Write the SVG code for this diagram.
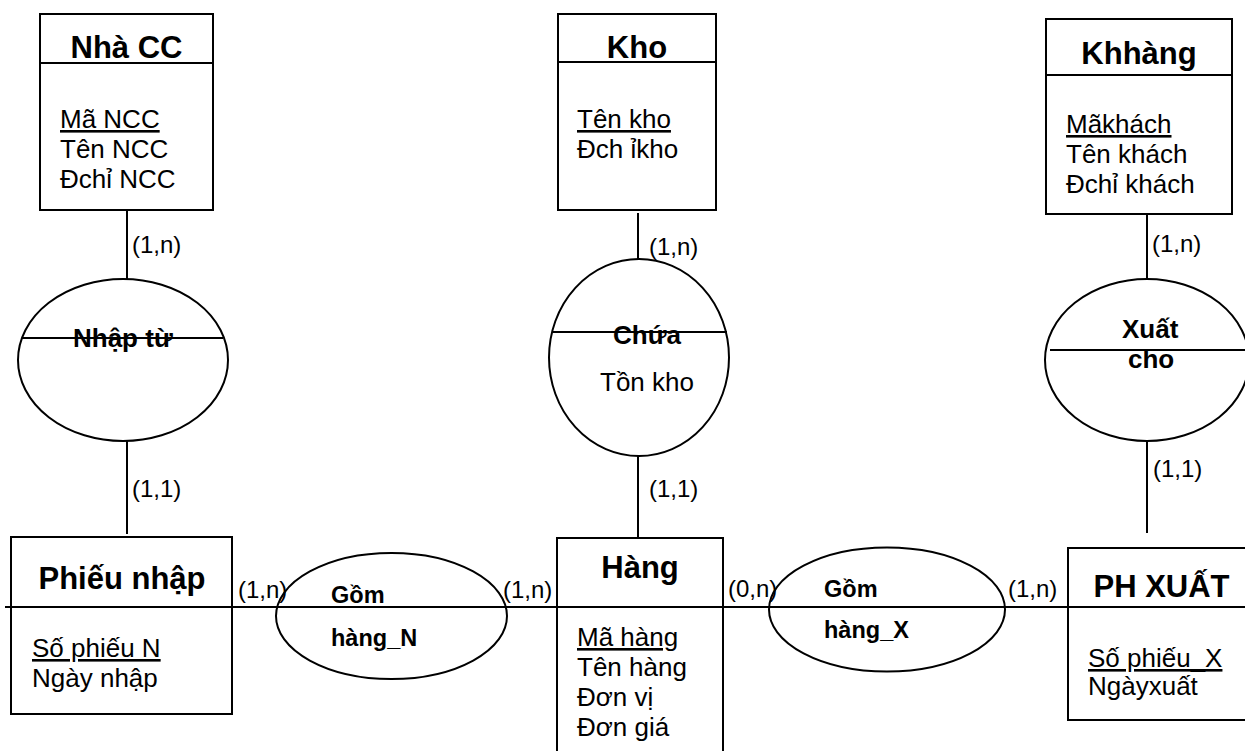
<svg xmlns="http://www.w3.org/2000/svg" width="1245" height="751" viewBox="0 0 1245 751">
  <style>
    .shape { fill: none; stroke: #000; stroke-width: 2; }
    .line { fill: none; stroke: #000; stroke-width: 2; }
    .title { font-family: "Liberation Sans", Arial, sans-serif; font-weight: bold; font-size: 31px; fill: #000; text-anchor: middle; }
    .attr { font-family: "Liberation Sans", Arial, sans-serif; font-size: 26px; fill: #000; }
    .key { text-decoration: underline; }
    .rel { font-family: "Liberation Sans", Arial, sans-serif; font-weight: bold; font-size: 26px; fill: #000; }
    .rel2 { font-family: "Liberation Sans", Arial, sans-serif; font-weight: bold; font-size: 23.5px; fill: #000; }
    .card { font-family: "Liberation Sans", Arial, sans-serif; font-size: 24px; fill: #000; }
  </style>
  <rect width="1245" height="751" fill="#fff"/>

  <!-- connectors and cardinalities -->
  <g id="connectors">
    <line class="line" x1="127" y1="210" x2="127" y2="279"/>
    <line class="line" x1="127" y1="441" x2="127" y2="534"/>
    <line class="line" x1="638" y1="213" x2="638" y2="259"/>
    <line class="line" x1="638" y1="456" x2="638" y2="537"/>
    <line class="line" x1="1147" y1="214" x2="1147" y2="279"/>
    <line class="line" x1="1147" y1="441" x2="1147" y2="533"/>
    <!-- shared horizontal rule through the bottom row -->
    <line class="line" x1="5" y1="607" x2="1245" y2="607"/>
    <text class="card" x="132" y="253">(1,n)</text>
    <text class="card" x="132" y="497">(1,1)</text>
    <text class="card" x="649" y="255">(1,n)</text>
    <text class="card" x="649" y="497">(1,1)</text>
    <text class="card" x="1152" y="252">(1,n)</text>
    <text class="card" x="1153" y="477">(1,1)</text>
    <text class="card" x="238" y="598">(1,n)</text>
    <text class="card" x="503" y="598">(1,n)</text>
    <text class="card" x="728" y="597">(0,n)</text>
    <text class="card" x="1008" y="597">(1,n)</text>
  </g>

  <!-- entities -->
  <g id="nha-cc">
    <rect class="shape" x="40" y="14" width="173" height="196"/>
    <line class="line" x1="40" y1="63" x2="213" y2="63"/>
    <text class="title" x="126.5" y="58">Nhà CC</text>
    <text class="attr key" x="60" y="128">Mã NCC</text>
    <text class="attr" x="60" y="158">Tên NCC</text>
    <text class="attr" x="60" y="188">Đchỉ NCC</text>
  </g>

  <g id="kho">
    <rect class="shape" x="558" y="14" width="158" height="196"/>
    <line class="line" x1="558" y1="62" x2="716" y2="62"/>
    <text class="title" x="637" y="58">Kho</text>
    <text class="attr key" x="577" y="128">Tên kho</text>
    <text class="attr" x="577" y="158">Đch ỉkho</text>
  </g>

  <g id="khhang">
    <rect class="shape" x="1046" y="19" width="186" height="195"/>
    <line class="line" x1="1046" y1="75" x2="1232" y2="75"/>
    <text class="title" x="1139" y="64">Khhàng</text>
    <text class="attr key" x="1066" y="133">Mãkhách</text>
    <text class="attr" x="1066" y="163">Tên khách</text>
    <text class="attr" x="1066" y="193">Đchỉ khách</text>
  </g>

  <g id="phieu-nhap">
    <rect class="shape" x="11" y="537" width="221" height="177"/>
    <text class="title" x="122" y="589">Phiếu nhập</text>
    <text class="attr key" x="32" y="657">Số phiếu N</text>
    <text class="attr" x="32" y="687">Ngày nhập</text>
  </g>

  <g id="hang">
    <rect class="shape" x="557" y="538" width="166" height="230"/>
    <text class="title" x="640" y="578">Hàng</text>
    <text class="attr key" x="577" y="646">Mã hàng</text>
    <text class="attr" x="577" y="676">Tên hàng</text>
    <text class="attr" x="577" y="706">Đơn vị</text>
    <text class="attr" x="577" y="736">Đơn giá</text>
  </g>

  <g id="ph-xuat">
    <rect class="shape" x="1068" y="548" width="190" height="172"/>
    <text class="title" x="1161.5" y="597">PH XUẤT</text>
    <text class="attr key" x="1088" y="667">Số phiếu_X</text>
    <text class="attr" x="1088" y="695">Ngàyxuất</text>
  </g>

  <!-- relationships -->
  <g id="nhap-tu">
    <ellipse class="shape" cx="123" cy="360" rx="105" ry="81"/>
    <line class="line" x1="22" y1="338" x2="223" y2="338"/>
    <text class="rel" x="73" y="347">Nhập từ</text>
  </g>

  <g id="chua">
    <ellipse class="shape" cx="639" cy="357.5" rx="90" ry="98.5"/>
    <line class="line" x1="553" y1="332" x2="727" y2="332"/>
    <text class="rel" x="613" y="344">Chứa</text>
    <text class="attr" x="600" y="391">Tồn kho</text>
  </g>

  <g id="xuat-cho">
    <ellipse class="shape" cx="1147" cy="360" rx="102" ry="81"/>
    <line class="line" x1="1050" y1="350" x2="1245" y2="350"/>
    <text class="rel" x="1122" y="338">Xuất</text>
    <text class="rel" x="1128" y="368">cho</text>
  </g>

  <g id="gom-hang-n">
    <ellipse class="shape" cx="391.5" cy="616" rx="115.5" ry="63"/>
    <text class="rel2" x="331" y="603">Gồm</text>
    <text class="rel2" x="331" y="646">hàng_N</text>
  </g>

  <g id="gom-hang-x">
    <ellipse class="shape" cx="887" cy="609.5" rx="118" ry="62"/>
    <text class="rel2" x="824" y="597">Gồm</text>
    <text class="rel2" x="824" y="638">hàng_X</text>
  </g>
</svg>
